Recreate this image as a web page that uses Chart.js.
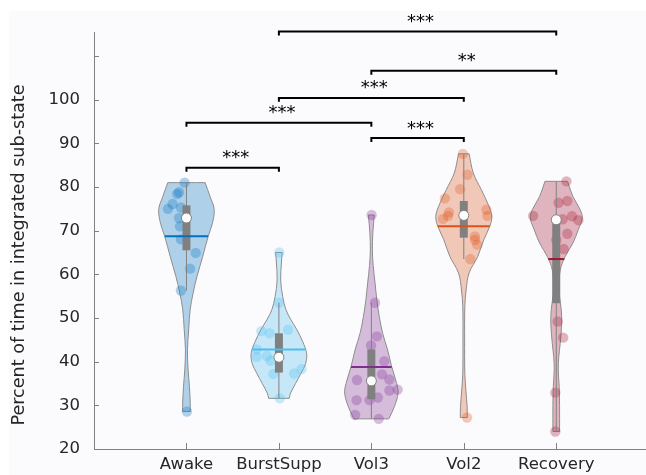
<!DOCTYPE html>
<html>
<head>
<meta charset="utf-8">
<script src="https://cdn.jsdelivr.net/npm/chart.js@4.4.1/dist/chart.umd.min.js"></script>
<style>
html, body { margin: 0; padding: 0; background: #fff; }
#wrap { position: relative; width: 646px; height: 475px; overflow: hidden; }
#panel { position: absolute; left: 9px; top: 11px; right: 0; bottom: 0; background: #fbfafd; }
canvas { position: absolute; left: 0; top: 0; }
</style>
</head>
<body>
<div id="wrap"><div id="panel"></div><canvas id="violinChart" width="651" height="475"></canvas></div>
<script>
const groups = ['Awake', 'BurstSupp', 'Vol3', 'Vol2', 'Recovery'];
const groupColors = ['#0072BD', '#4DBEEE', '#7E2F8E', '#D95319', '#A2142F'];

// single observations (percent) + horizontal jitter in category units
const awakePts = [81.0, 78.8, 78.4, 76.1, 75.0, 75.3, 72.9, 71.0, 68.0, 64.9, 61.3, 56.3, 28.6];
const awakeJit = [-0.02, -0.08, -0.10, -0.15, -0.20, -0.06, -0.08, -0.07, -0.06, 0.10, 0.04, -0.06, 0.005];
const burstPts = [65.0, 53.5, 47.0, 46.5, 47.3, 42.8, 41.1, 41.3, 40.2, 37.2, 37.3, 38.3, 31.6];
const burstJit = [0.005, 0, -0.19, -0.10, 0.10, -0.24, -0.24, -0.13, -0.09, -0.06, 0.165, 0.245, 0.01];
const vol3Pts = [73.6, 53.5, 45.8, 43.7, 40.1, 37.1, 35.9, 35.8, 33.6, 33.4, 31.8, 31.2, 31.2, 27.8, 26.9];
const vol3Jit = [0.003, 0.04, 0.06, -0.003, 0.14, 0.115, 0.195, -0.155, 0.285, 0.195, 0.07, -0.02, -0.16, -0.175, 0.08];
const vol2Pts = [87.6, 82.8, 79.5, 77.4, 74.2, 73.4, 72.7, 74.8, 73.4, 68.7, 67.9, 66.8, 63.5, 27.2];
const vol2Jit = [-0.01, 0.04, -0.04, -0.205, -0.16, -0.17, -0.225, 0.245, 0.255, 0.12, 0.12, 0.145, 0.07, 0.035];
const recovPts = [81.3, 76.4, 76.8, 73.4, 72.6, 73.3, 72.4, 69.3, 67.9, 65.8, 49.2, 45.5, 32.9, 24.0];
const recovJit = [0.11, 0.025, 0.12, -0.25, 0.07, 0.17, 0.24, 0.12, 0, 0.08, 0.015, 0.075, -0.01, -0.01];

// violin outline: levels (top -> bottom) and half widths (category units)
const awakeLevels = [81.0, 77.8, 74.9, 71.7, 68.7, 64.1, 59.5, 55.7, 51.9, 47.3, 42.7, 38.1, 34.3, 30.5, 28.6];
const awakeWidths = [0.202, 0.256, 0.300, 0.281, 0.235, 0.176, 0.114, 0.072, 0.040, 0.024, 0.011, 0.018, 0.032, 0.041, 0.041];
const burstLevels = [65.0, 62.6, 58.7, 54.9, 51.9, 49.6, 47.3, 44.6, 41.9, 39.6, 37.3, 35.0, 32.8, 31.6];
const burstWidths = [0.036, 0.027, 0.019, 0.041, 0.076, 0.130, 0.195, 0.257, 0.300, 0.289, 0.238, 0.180, 0.126, 0.111];
const vol3Levels = [73.6, 69.5, 65.6, 62.0, 58.0, 54.2, 50.3, 46.5, 42.7, 38.9, 35.0, 32.8, 29.7, 26.9];
const vol3Widths = [0.032, 0.016, 0.011, 0.020, 0.040, 0.059, 0.086, 0.122, 0.176, 0.219, 0.274, 0.289, 0.249, 0.189];
const vol2Levels = [87.6, 83.2, 79.4, 75.5, 73.2, 71.0, 67.9, 64.1, 60.3, 56.4, 52.6, 45.0, 37.3, 33.5, 29.7, 27.2];
const vol2Widths = [0.057, 0.103, 0.189, 0.274, 0.303, 0.281, 0.216, 0.151, 0.057, 0.025, 0.011, 0.009, 0.011, 0.022, 0.036, 0.038];
const recovLevels = [81.3, 77.8, 74.8, 72.9, 70.2, 67.2, 64.1, 61.0, 57.0, 54.9, 51.9, 48.8, 44.2, 41.0, 38.1, 34.3, 30.0, 24.0];
const recovWidths = [0.122, 0.181, 0.259, 0.281, 0.238, 0.181, 0.097, 0.043, 0.032, 0.036, 0.054, 0.059, 0.043, 0.027, 0.022, 0.032, 0.036, 0.036];

const medians = [72.9, 41.0, 35.6, 73.5, 72.5];
const means = [68.7, 42.8, 38.8, 71.0, 63.5];
const q1 = [65.5, 37.5, 31.4, 68.4, 53.4];
const q3 = [75.8, 46.5, 42.8, 76.8, 72.9];
const whiskLow = [56.3, 31.6, 26.9, 63.5, 24.0];
const whiskHigh = [81.0, 53.5, 53.5, 87.6, 81.3];

const yTicks = [20, 30, 40, 50, 60, 70, 80, 90, 100, 110];
const yTickLabels = ['20', '30', '40', '50', '60', '70', '80', '90', '100', ''];

// significance brackets
const sigFrom = [2, 3, 2, 1, 3, 1];
const sigTo = [5, 5, 4, 3, 4, 2];
const sigLevel = [115.6, 106.6, 100.4, 94.7, 91.2, 84.4];
const sigText = ['***', '**', '***', '***', '***', '***'];

const allPts = [awakePts, burstPts, vol3Pts, vol2Pts, recovPts];
const allJit = [awakeJit, burstJit, vol3Jit, vol2Jit, recovJit];
const allLevels = [awakeLevels, burstLevels, vol3Levels, vol2Levels, recovLevels];
const allWidths = [awakeWidths, burstWidths, vol3Widths, vol2Widths, recovWidths];

function rgba(hex, a) {
  const n = parseInt(hex.slice(1), 16);
  return 'rgba(' + (n >> 16) + ',' + ((n >> 8) & 255) + ',' + (n & 255) + ',' + a + ')';
}

function widthAt(levels, widths, v) {
  for (let i = 0; i < levels.length - 1; i++) {
    if (v <= levels[i] && v >= levels[i + 1]) {
      const t = (levels[i] - v) / (levels[i] - levels[i + 1]);
      return widths[i] + t * (widths[i + 1] - widths[i]);
    }
  }
  return 0;
}

const datasets = [];
groups.forEach((g, i) => {
  const c = i + 1;
  const lv = allLevels[i], wd = allWidths[i];
  const n = lv.length;
  // outline: right side down, left side up; corners doubled to keep the flat ends
  const outline = [];
  lv.forEach((y, k) => {
    outline.push({ x: c + wd[k], y: y });
    if (k === 0 || k === n - 1) outline.push({ x: c + wd[k], y: y });
  });
  for (let k = n - 1; k >= 0; k--) {
    outline.push({ x: c - wd[k], y: lv[k] });
    if (k === 0 || k === n - 1) outline.push({ x: c - wd[k], y: lv[k] });
  }
  outline.push({ x: c + wd[0], y: lv[0] });

  datasets.push({
    type: 'line', data: outline, order: 60,
    borderColor: '#8c8c8c', borderWidth: 1,
    backgroundColor: rgba(groupColors[i], 0.3),
    fill: 'shape', tension: 0.35, pointRadius: 0
  });
  datasets.push({
    type: 'scatter', order: 50,
    data: allPts[i].map((v, k) => ({ x: c + allJit[i][k], y: v })),
    pointRadius: 5.2, borderWidth: 0,
    backgroundColor: rgba(groupColors[i], 0.3)
  });
  datasets.push({
    type: 'line', order: 40,
    data: [{ x: c, y: whiskLow[i] }, { x: c, y: whiskHigh[i] }],
    borderColor: '#808080', borderWidth: 1, pointRadius: 0
  });
  datasets.push({
    type: 'line', order: 30,
    data: [{ x: c, y: q1[i] }, { x: c, y: q3[i] }],
    borderColor: '#808080', borderWidth: 8, borderCapStyle: 'butt', pointRadius: 0
  });
  const mw = widthAt(lv, wd, means[i]);
  datasets.push({
    type: 'line', order: 20,
    data: [{ x: c - mw, y: means[i] }, { x: c + mw, y: means[i] }],
    borderColor: groupColors[i], borderWidth: 2, pointRadius: 0
  });
  datasets.push({
    type: 'scatter', order: 10,
    data: [{ x: c, y: medians[i] }],
    pointRadius: 5, borderWidth: 1,
    borderColor: '#808080', backgroundColor: '#ffffff'
  });
});

sigFrom.forEach((a, i) => {
  const b = sigTo[i], y = sigLevel[i];
  datasets.push({
    type: 'line', order: 0, clip: false,
    data: [{ x: a, y: y - 0.9 }, { x: a, y: y }, { x: b, y: y }, { x: b, y: y - 0.9 }],
    borderColor: '#000000', borderWidth: 2, pointRadius: 0, tension: 0
  });
});

const extras = {
  id: 'extras',
  afterDraw(chart) {
    const ctx = chart.ctx;
    const xs = chart.scales.x, ys = chart.scales.y;
    const area = chart.chartArea;
    ctx.save();
    // inward tick marks
    ctx.strokeStyle = '#808080';
    ctx.lineWidth = 1;
    ctx.beginPath();
    yTicks.forEach(v => {
      const p = Math.round(ys.getPixelForValue(v)) + 0.5;
      ctx.moveTo(area.left, p);
      ctx.lineTo(area.left + 5, p);
    });
    groups.forEach((g, i) => {
      const p = Math.round(xs.getPixelForValue(i + 1)) + 0.5;
      ctx.moveTo(p, area.bottom);
      ctx.lineTo(p, area.bottom - 6);
    });
    ctx.stroke();
    // significance stars
    ctx.fillStyle = '#000';
    ctx.font = '18px "DejaVu Sans"';
    ctx.textAlign = 'center';
    ctx.textBaseline = 'alphabetic';
    sigText.forEach((t, i) => {
      const xm = (xs.getPixelForValue(sigFrom[i]) + xs.getPixelForValue(sigTo[i])) / 2;
      ctx.fillText(t, xm + 3, ys.getPixelForValue(sigLevel[i]) - 4.5);
    });
    // y axis title
    ctx.fillStyle = '#262626';
    ctx.font = '17.6px "DejaVu Sans"';
    ctx.translate(area.left - 75, 255);
    ctx.rotate(-Math.PI / 2);
    ctx.textBaseline = 'middle';
    ctx.fillText('Percent of time in integrated sub-state', 0, 0);
    ctx.restore();
  }
};

new Chart(document.getElementById('violinChart'), {
  type: 'scatter',
  data: { datasets: datasets },
  options: {
    responsive: false,
    animation: false,
    layout: { padding: { top: 32, left: 0, right: 0, bottom: 0 } },
    plugins: { legend: { display: false }, tooltip: { enabled: false } },
    scales: {
      x: {
        type: 'linear', min: 0, max: 5.96,
        grid: { display: false, drawTicks: false },
        border: { display: true, color: '#808080', width: 1 },
        afterBuildTicks: s => { s.ticks = groups.map((g, i) => ({ value: i + 1 })); },
        afterFit: s => { s.height = 26; },
        ticks: {
          autoSkip: false, maxRotation: 0, padding: 6,
          color: '#262626', font: { family: 'DejaVu Sans', size: 16.5 },
          callback: (v, i) => groups[i]
        }
      },
      y: {
        type: 'linear', min: 20, max: 115.5,
        grid: { display: false, drawTicks: false },
        border: { display: true, color: '#808080', width: 1 },
        afterBuildTicks: s => { s.ticks = yTicks.map(v => ({ value: v })); },
        afterFit: s => { s.width = 94; },
        ticks: {
          padding: 14,
          color: '#262626', font: { family: 'DejaVu Sans', size: 16.5 },
          callback: (v, i) => yTickLabels[i]
        }
      }
    }
  },
  plugins: [extras]
});
</script>
</body>
</html>
